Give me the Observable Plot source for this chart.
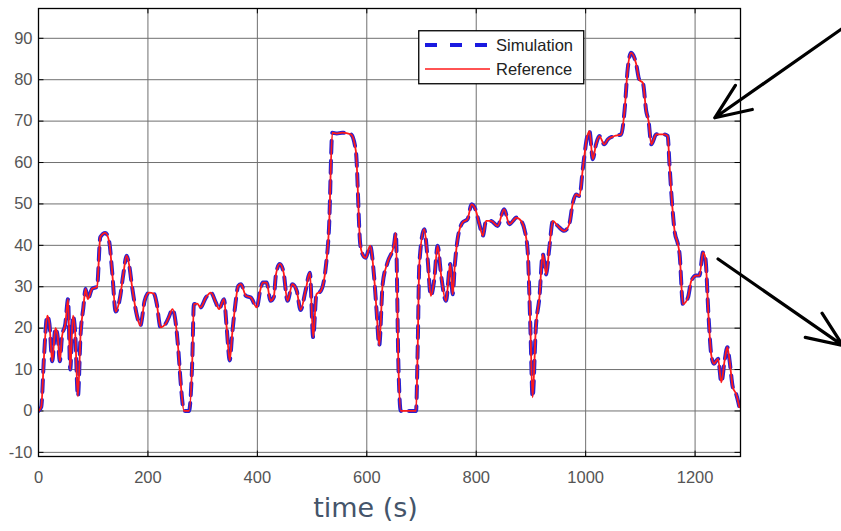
<!DOCTYPE html>
<html>
<head>
<meta charset="utf-8">
<script src="https://cdn.jsdelivr.net/npm/d3@7"></script>
<script src="https://cdn.jsdelivr.net/npm/@observablehq/plot@0.6"></script>
<style>
  html, body { margin: 0; padding: 0; background: #fff; }
  #wrap { position: relative; width: 841px; height: 531px; overflow: hidden; }
  #xlabel { position: absolute; left: 0; width: 731px; text-align: center; top: 494px;
            font-family: "DejaVu Sans", sans-serif; font-size: 27px; line-height: 27px; color: #44546a; }
  #legend { position: absolute; left: 418px; top: 30px; }
</style>
</head>
<body>
<div id="wrap"></div>
<script>
// ---- data ----
const time = [0,5,10,16,20,25,31,35,39,43,49,54,58,63,67,72,77,82,86,90,98,107,113,122,129,135,141,149,155,161,166,171,180,186,194,202,211,216,223,232,238,245,251,256,260,266,275,281,284,290,296,306,315,324,330,339,344,349.5,354,360,365,370,379,388,399,405,410,417,424,430,434,441,448,455,464,472,479,488,496,502,508,516,525,531,537,545,555,571,580,588,592,598,606,613,618,622.7,629,638,650,653,658,662,690,693,696,705,711,717,723,729.5,735.6,744.7,752.6,757,761,766,775,784,791.6,799.6,806,812,818,827,839,851,860.6,869.7,873,882,888,894,899,903,909,915.5,921.6,927.7,933.7,940,949,961,970,976.6,982.6,988.7,995,1003,1007,1013,1019,1025,1034,1040.6,1052.7,1065,1071,1077,1083,1092,1098,1104.6,1110.7,1115,1120,1129,1144,1150,1153,1158,1162.5,1168.6,1171.6,1177.8,1187,1193,1202,1208,1214.5,1218.7,1224.7,1229.7,1234.5,1242,1248,1254,1259,1263,1269,1275,1281];
const reference = [0,1,13,23,21,12,20,18,12,18,21,27,10,23,19,3.5,18.7,25,29.5,27,29.5,30,42,43,41,33,24,27.4,33,37.5,35,30,23,20.6,26.6,28.6,28.3,26,20.2,21,22.6,24.6,21,14,6.6,0,0,12,25.8,25.9,25,27.4,28.6,26.2,24.6,27,20,12.2,18.6,26,30.2,30.6,27.8,27.4,25,29,31,31,26.6,27.5,33,35.5,33.4,26.6,30.6,29,24.4,29,33.4,17.8,28.2,29,34.7,44.3,67.2,67,67.2,66.8,62.8,40.3,37.9,37,39.9,33,24,15.8,30.6,35.9,40.3,43,10,0,0,15,35.5,43.9,37,27.8,31.4,39.9,33,26.6,35.5,28.2,35.5,41.5,45.5,46.3,49.9,48.3,45,42.3,45.9,45.9,44.7,48.7,45.1,46.3,46.7,45.9,43.9,38.7,20,3.3,20.2,27.4,37.9,33,39.5,45.9,44.7,43.5,45.1,50.3,52.3,51.9,58.7,66.4,67.6,60.8,64.4,66.4,64.4,65.6,66.4,66.8,72.4,82.8,86.5,84,80,79.2,72.4,70,64.4,66.8,66.8,66.4,60,50,43.5,40.3,38,25.8,27.4,31.4,32.7,32.7,38.3,37,22.6,13.4,11.4,12.6,6.9,12.2,15.4,12.2,5.7,4.1,0.9];
const simulation = reference; // the simulated trace overlays the reference
const xTicks = [0, 200, 400, 600, 800, 1000, 1200];
const yTicks = [-10, 0, 10, 20, 30, 40, 50, 60, 70, 80, 90];
const seriesNames = ["Simulation", "Reference"];
// annotation arrows (data units; they point from outside the axes)
const arrowStartT = [1467, 1242];
const arrowStartV = [92.2, 36.7];
const arrowEndT = [1236, 1470];
const arrowEndV = [70.8, 15.8];

const rows = time.map((t, i) => ({t, ref: reference[i], sim: simulation[i]}));
const arrows = arrowStartT.map((d, i) => ({x1: d, y1: arrowStartV[i], x2: arrowEndT[i], y2: arrowEndV[i]}));
const xDom = [0, 1283], yDom = [-11, 97.2];

const chart = Plot.plot({
  width: 841, height: 495,
  marginLeft: 38, marginRight: 101, marginTop: 8, marginBottom: 39,
  x: {domain: xDom},
  y: {domain: yDom},
  style: {fontFamily: "'Liberation Sans', Arial, sans-serif", fontSize: "16.5px", color: "#555", overflow: "visible", background: "transparent"},
  marks: [
    Plot.ruleX(xTicks, {stroke: "#707070", strokeWidth: 1}),
    Plot.ruleY(yTicks, {stroke: "#707070", strokeWidth: 1}),
    Plot.ruleX(xTicks, {y1: yDom[0], y2: yDom[0] + 1.3, stroke: "#000"}),
    Plot.ruleX(xTicks, {y1: yDom[1], y2: yDom[1] - 1.3, stroke: "#000"}),
    Plot.ruleY(yTicks, {x1: xDom[0], x2: xDom[0] + 10, stroke: "#000"}),
    Plot.ruleY(yTicks, {x1: xDom[1], x2: xDom[1] - 10, stroke: "#000"}),
    Plot.lineY(rows, {x: "t", y: "sim", stroke: "#2a22d0", strokeWidth: 4, strokeDasharray: "12,8", curve: "monotone-x", clip: true}),
    Plot.lineY(rows, {x: "t", y: "ref", stroke: "#ff1a1a", strokeWidth: 1.8, curve: "monotone-x", clip: true}),
    Plot.frame({stroke: "#000", strokeWidth: 1.3}),
    Plot.axisX(xTicks, {tickSize: 0, tickPadding: 15, label: null, tickFormat: d => String(d)}),
    Plot.axisY(yTicks, {tickSize: 0, tickPadding: 6, label: null, tickFormat: d => String(d)}),
    Plot.arrow(arrows, {x1: "x1", y1: "y1", x2: "x2", y2: "y2", stroke: "#000", strokeWidth: 3.2, headLength: 18, headAngle: 45})
  ]
});

const wrap = document.getElementById("wrap");
chart.style.position = "absolute";
chart.style.left = "0px";
chart.style.top = "0px";
wrap.appendChild(chart);

// legend
const ns = "http://www.w3.org/2000/svg";
const leg = document.createElementNS(ns, "svg");
leg.setAttribute("id", "legend");
leg.setAttribute("width", 167);
leg.setAttribute("height", 55);
leg.innerHTML = `
  <rect x="0.75" y="0.75" width="165" height="53" fill="#fff" stroke="#000" stroke-width="1.3"></rect>
  <line x1="7" x2="72" y1="15" y2="15" stroke="#1a1ae0" stroke-width="4" stroke-dasharray="12,13"></line>
  <line x1="7" x2="72" y1="39" y2="39" stroke="#ff1a1a" stroke-width="1.6"></line>
  <text x="78" y="21" font-family="'Liberation Sans', Arial, sans-serif" font-size="16.5" fill="#222">${seriesNames[0]}</text>
  <text x="78" y="45" font-family="'Liberation Sans', Arial, sans-serif" font-size="16.5" fill="#222">${seriesNames[1]}</text>`;
wrap.appendChild(leg);

const xl = document.createElement("div");
xl.id = "xlabel";
xl.textContent = "time (s)";
wrap.appendChild(xl);
</script>
</body>
</html>
